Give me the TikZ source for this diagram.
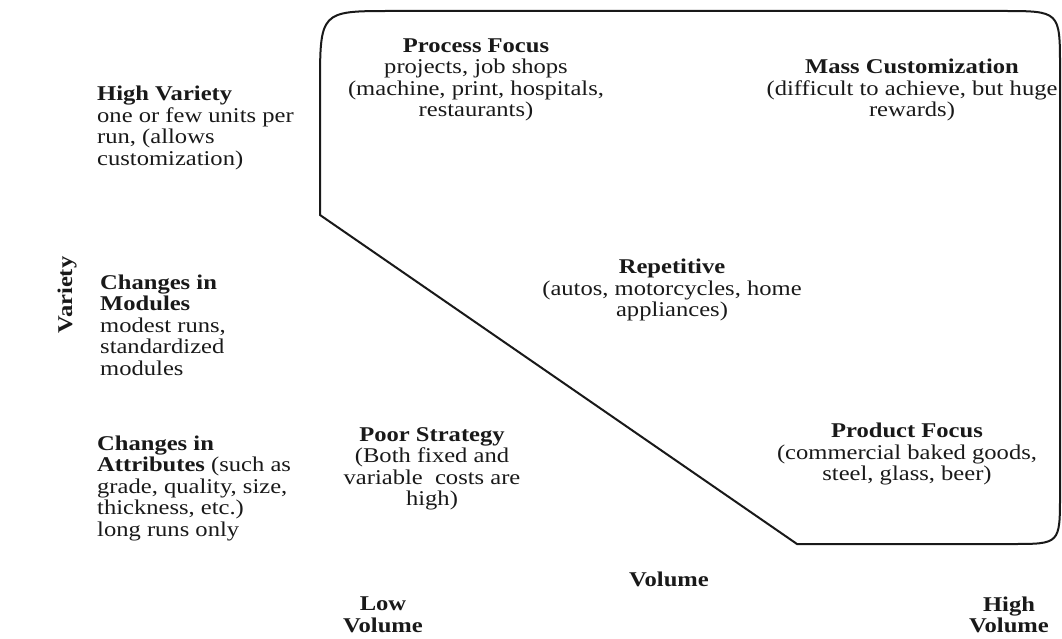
\documentclass[tikz,border=0pt]{standalone}
\usepackage{fontspec}
\setmainfont{Liberation Serif}[FakeStretch=1.17]
\usepackage{xcolor}
\usepackage{tikz}
\definecolor{inkgray}{RGB}{25,25,25}

\begin{document}
\begin{tikzpicture}[
  x=1pt, y=-1pt,
  txt/.style={inner sep=0pt, align=center, text=inkgray, font=\fontsize{21}{21.5}\selectfont},
  lefttxt/.style={txt, align=left, anchor=west},
  frame/.style={line width=2pt, inkgray}
]
  \useasboundingbox (0,0) rectangle (1062,639);
  % product-process region
  \draw[frame] (320,215) -- (320,88) .. controls (320,11) .. (392,11) -- (1002,11)
    .. controls (1060,11) .. (1060,68) -- (1060,494) .. controls (1060,544) .. (1012,544)
    -- (797,544) -- cycle;
  % quadrants
  \node[txt] (procfocus) at (476,80) {\textbf{Process Focus}\\projects, job shops\\(machine, print, hospitals,\\restaurants)};
  \node[txt] (masscust) at (912,90) {\textbf{Mass Customization}\\(difficult to achieve, but huge\\rewards)};
  \node[txt] (repetitive) at (672,290) {\textbf{Repetitive}\\(autos, motorcycles, home\\appliances)};
  \node[txt] (poorstrat) at (432,469) {\textbf{Poor Strategy}\\(Both fixed and\\variable\ \ costs are\\high)};
  \node[txt] (prodfocus) at (907,454) {\textbf{Product Focus}\\(commercial baked goods,\\steel, glass, beer)};
  % variety axis
  \node[txt, rotate=90] (variety) at (67,295) {\textbf{Variety}};
  \node[lefttxt] (highvar) at (97,128) {\textbf{High Variety}\\one or few units per\\run, (allows\\customization)};
  \node[lefttxt] (modules) at (100,325) {\textbf{Changes in}\\\textbf{Modules}\\modest runs,\\standardized\\modules};
  \node[lefttxt] (attributes) at (97,488) {\textbf{Changes in}\\\textbf{Attributes} (such as\\grade, quality, size,\\thickness, etc.)\\long runs only};
  % volume axis
  \node[txt] (volume) at (669,579) {\textbf{Volume}};
  \node[txt] (lowvol) at (383,615) {\textbf{Low}\\\textbf{Volume}};
  \node[txt] (highvol) at (1009,615) {\textbf{High}\\\textbf{Volume}};
\end{tikzpicture}
\end{document}
